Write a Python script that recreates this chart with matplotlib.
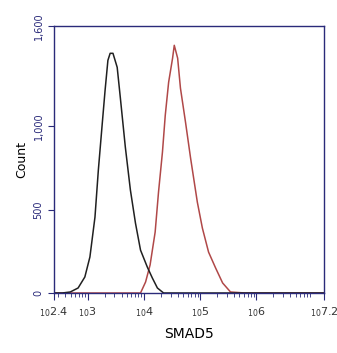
import numpy as np
import matplotlib.pyplot as plt
from matplotlib.ticker import FixedLocator

# control (black) histogram: log10(intensity), count
ctrl_log = [2.40, 2.55, 2.69, 2.83, 2.95, 3.04, 3.13, 3.19, 3.26, 3.31, 3.36, 3.40,
            3.45, 3.525, 3.58, 3.67, 3.76, 3.85, 3.94, 4.06, 4.15, 4.24, 4.35, 4.6, 7.2]
ctrl_count = [0, 0, 6, 30, 96, 216, 455, 737, 1018, 1216, 1395, 1437,
              1437, 1353, 1174, 874, 617, 419, 257, 156, 90, 30, 0, 0, 0]

# SMAD5 stained (red) histogram
smad_log = [2.40, 3.8, 3.94, 4.03, 4.11, 4.20, 4.26, 4.33, 4.38, 4.44, 4.51, 4.54,
            4.60, 4.65, 4.74, 4.83, 4.95, 5.04, 5.15, 5.275, 5.40, 5.54, 5.8, 7.2]
smad_count = [0, 0, 0, 66, 168, 365, 605, 845, 1066, 1264, 1408, 1485,
              1408, 1228, 1024, 809, 545, 389, 245, 150, 60, 6, 0, 0]

xtick_pos = [2.4, 3, 4, 5, 6, 7.2]
xtick_labels = [r'$_{10}2.4$', r'$_{10}3$', r'$_{10}4$', r'$_{10}5$', r'$_{10}6$', r'$_{10}7.2$']
ytick_pos = [0, 500, 1000, 1600]
ytick_labels = ['0', '500', '1,000', '1,600']

navy = '#2a2a7a'

fig = plt.figure(figsize=(3.37, 3.53), dpi=100)
ax = fig.add_axes([0.160, 0.170, 0.801, 0.756])

ax.plot(10 ** np.array(smad_log), smad_count, color='#b04848', lw=1.1)
ax.plot(10 ** np.array(ctrl_log), ctrl_count, color='#202020', lw=1.1)

ax.set_xscale('log')
ax.set_xlim(10 ** 2.4, 10 ** 7.2)
ax.set_ylim(0, 1600)

ax.set_xticks([10 ** v for v in xtick_pos])
ax.set_xticklabels(xtick_labels, fontsize=8, color='#333333')
minors = [m * 10 ** d for d in range(2, 8) for m in range(2, 10)]
minors = [v for v in minors if 10 ** 2.4 < v < 10 ** 7.2]
ax.xaxis.set_minor_locator(FixedLocator(minors))
ax.tick_params(axis='x', which='major', length=5, color=navy, direction='out')
ax.tick_params(axis='x', which='minor', length=3, color=navy, direction='out')

ax.set_yticks(ytick_pos)
ax.set_yticklabels(ytick_labels, fontsize=7, color=navy, rotation=90, va='center')
ax.tick_params(axis='y', length=4, color=navy, direction='out')

for s in ax.spines.values():
    s.set_color(navy)
    s.set_linewidth(1.0)

ax.set_xlabel('SMAD5', fontsize=10, labelpad=6)
ax.set_ylabel('Count', fontsize=9, labelpad=4)

fig.savefig('out.png', dpi=100)
